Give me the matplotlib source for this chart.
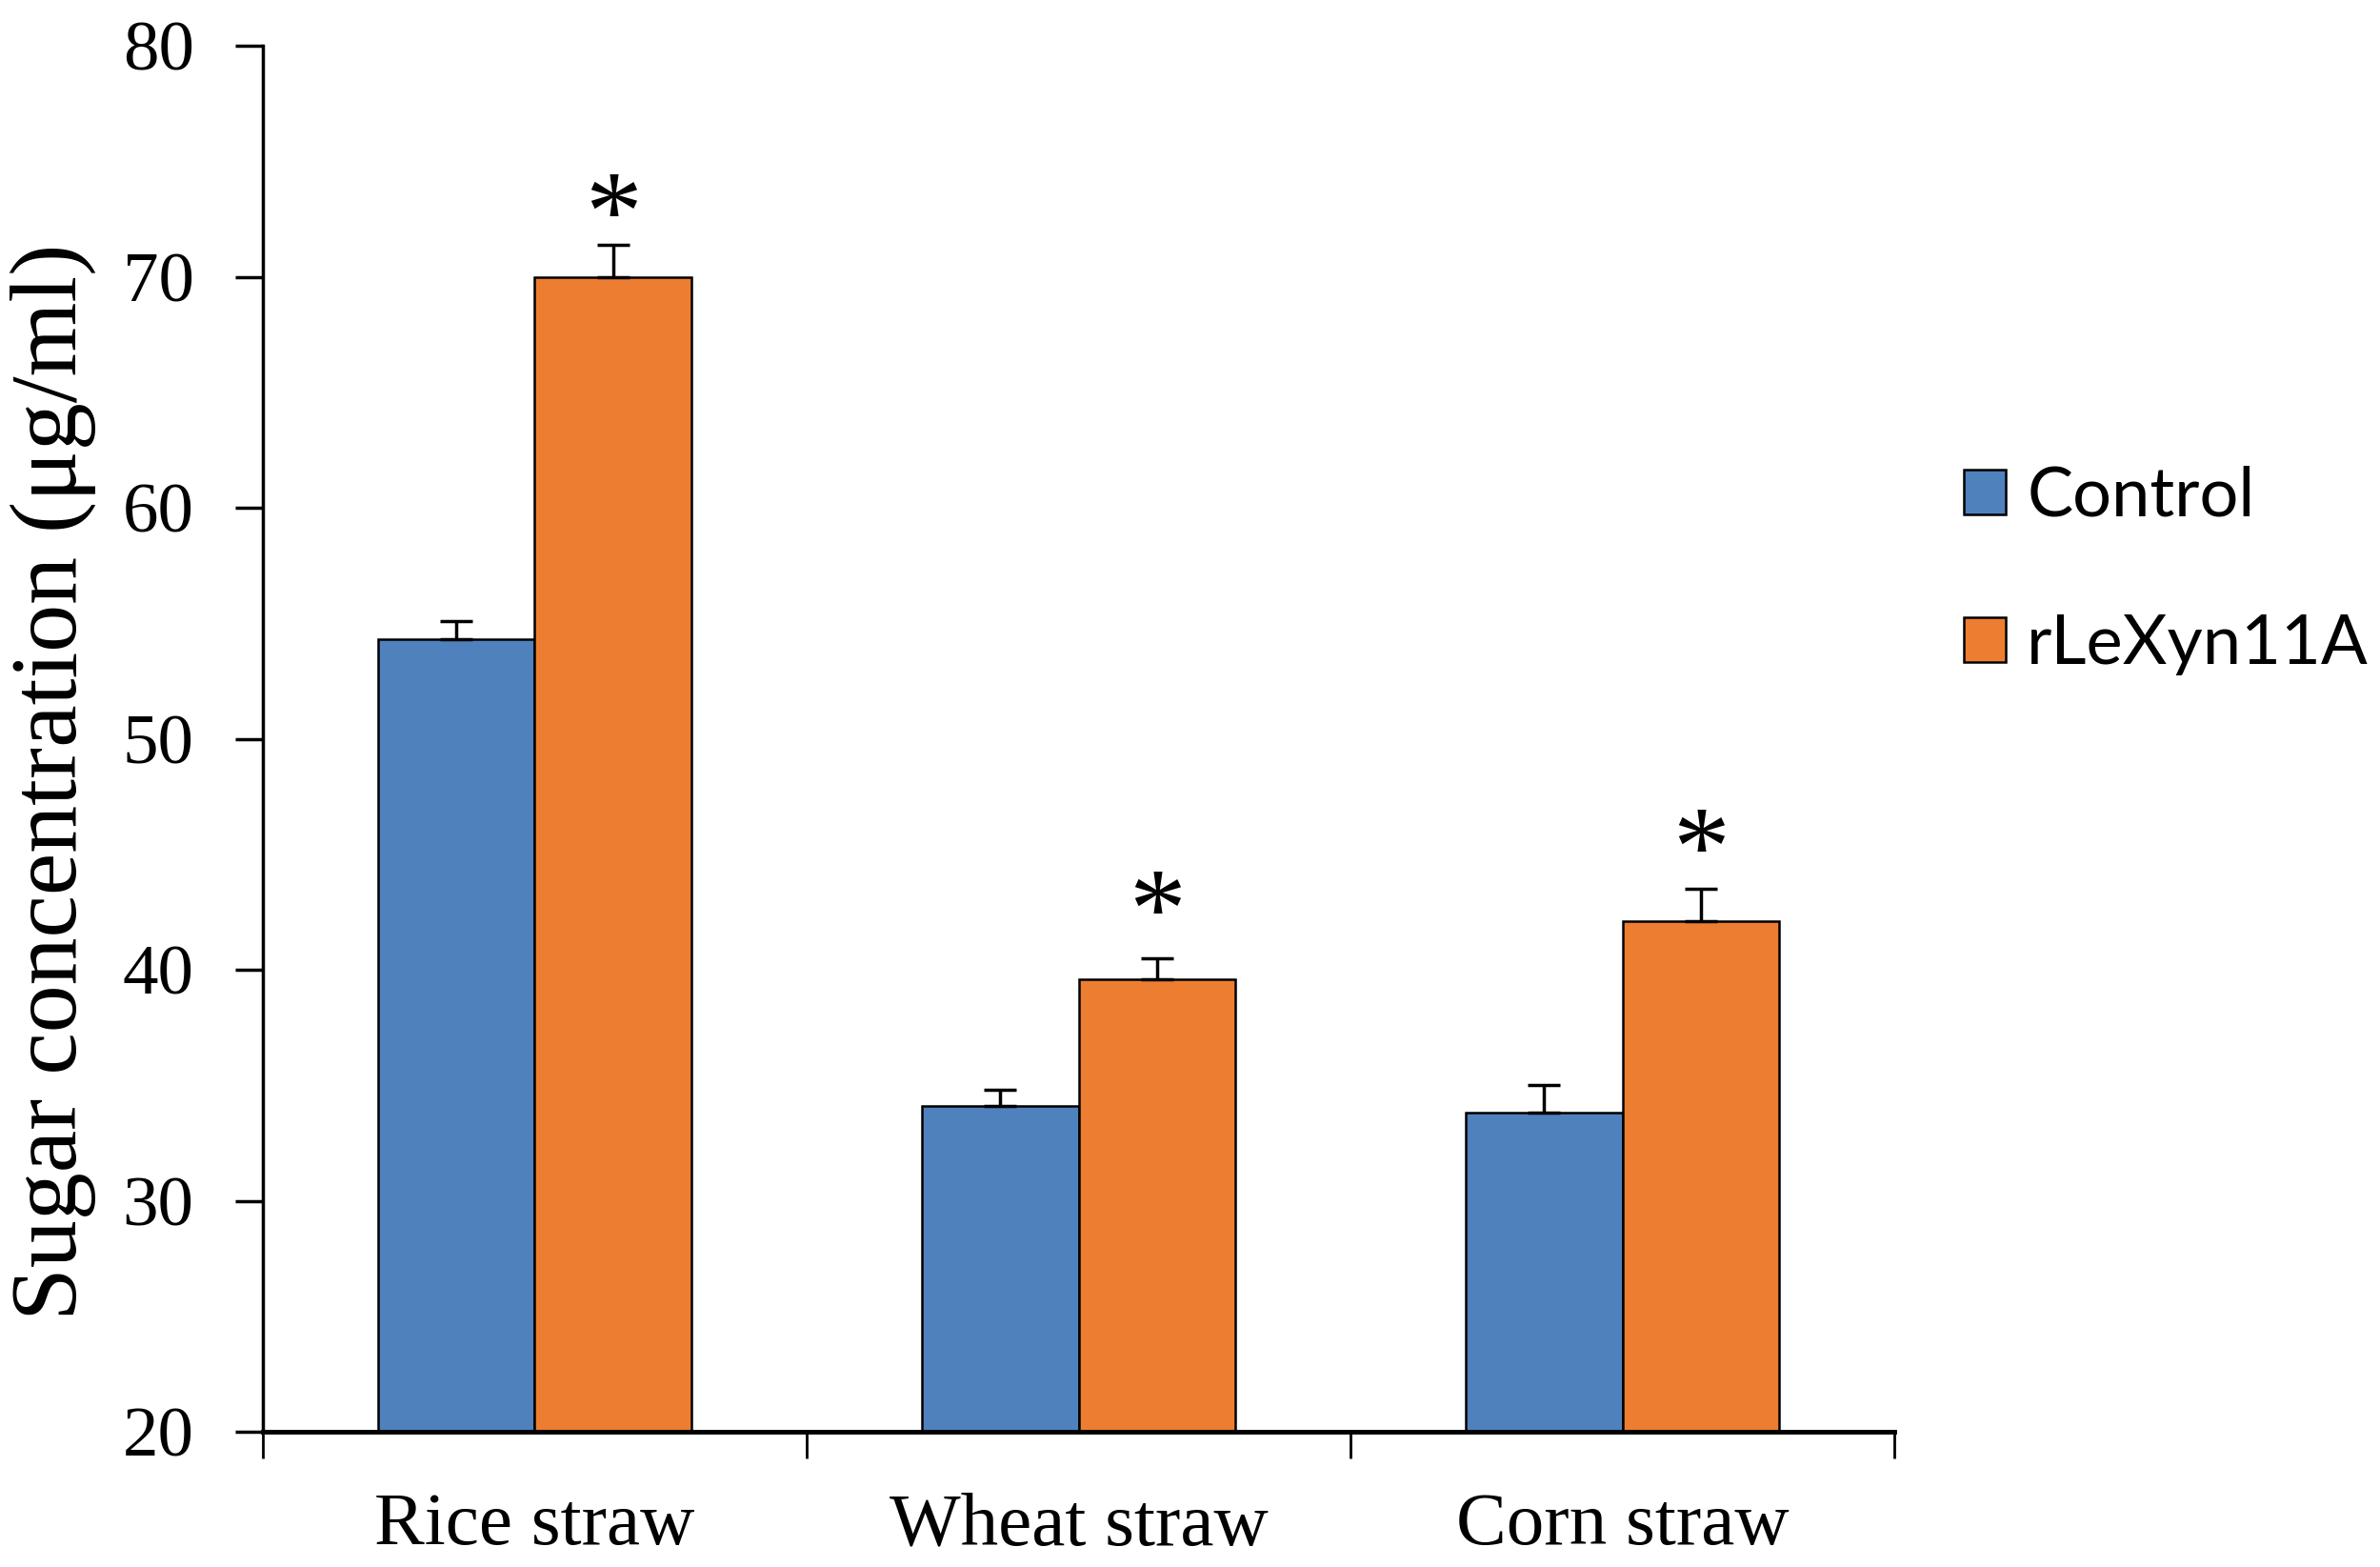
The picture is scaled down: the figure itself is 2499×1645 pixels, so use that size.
import numpy as np
import matplotlib
matplotlib.use("Agg")
import matplotlib.pyplot as plt

# data
substrates = ["Rice straw", "Wheat straw", "Corn straw"]
control = [54.3, 34.1, 33.8]
control_err = [0.8, 0.7, 1.2]
enzyme = [70.0, 39.6, 42.1]
enzyme_err = [1.4, 0.9, 1.4]
star_gap = [1.0, 1.7, 1.4]  # asterisk height above the error bar

blue = "#4F81BD"
orange = "#ED7D31"

fig = plt.figure(figsize=(24.99, 16.45), dpi=100)
ax = fig.add_axes([0.1104, 0.0863, 0.6856, 0.8845])

x = np.arange(len(substrates))
w = 0.288
ax.bar(x - w/2, control, w, color=blue, edgecolor="black", linewidth=1.8,
       label="Control", zorder=2)
ax.bar(x + w/2, enzyme, w, color=orange, edgecolor="black", linewidth=1.8,
       label="rLeXyn11A", zorder=2)
ax.errorbar(x - w/2, control, yerr=[np.zeros(3), control_err], fmt="none",
            ecolor="black", elinewidth=2.5, capsize=12, capthick=2.5, zorder=3)
ax.errorbar(x + w/2, enzyme, yerr=[np.zeros(3), enzyme_err], fmt="none",
            ecolor="black", elinewidth=2.5, capsize=12, capthick=2.5, zorder=3)

for i in range(len(x)):
    ax.text(x[i] + w/2, enzyme[i] + enzyme_err[i] + star_gap[i], "*",
            ha="center", va="center", fontsize=86, family="Liberation Serif")

ax.set_ylim(20, 80)
ax.set_yticks(np.arange(20, 81, 10))
ax.set_xlim(-0.5, 2.5)
ax.set_xticks([-0.5, 0.5, 1.5, 2.5])
ax.set_xticklabels([])
ax.set_xticks(x, minor=True)
ax.set_xticklabels(substrates, minor=True, fontsize=57, family="Liberation Serif")
ax.tick_params(axis="x", which="major", direction="out", length=20, width=2)
ax.tick_params(axis="x", which="minor", length=0, pad=46)
ax.tick_params(axis="y", direction="out", length=21, width=2.5, pad=31,
               labelsize=54)
for lab in ax.get_yticklabels():
    lab.set_family("Liberation Serif")

for s in ["top", "right"]:
    ax.spines[s].set_visible(False)
ax.spines["left"].set_linewidth(2.5)
ax.spines["bottom"].set_linewidth(3.5)

fig.text(0.0224, 0.501, "Sugar concentration (\u03bcg/ml)", rotation=90,
         ha="center", va="center", fontsize=72, family="Liberation Serif")

ax.legend(loc="center left", bbox_to_anchor=(0.799, 0.636),
          bbox_transform=fig.transFigure, frameon=False,
          prop={"family": "Lato", "size": 52},
          handlelength=0.62, handleheight=0.62, handletextpad=0.3,
          labelspacing=1.25)

fig.savefig("out.png", dpi=100)
